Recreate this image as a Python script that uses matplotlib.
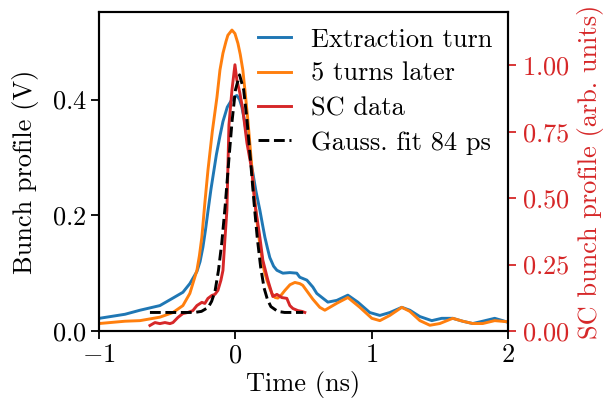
import matplotlib
matplotlib.use("Agg")
import matplotlib.pyplot as plt
from matplotlib.ticker import MultipleLocator

plt.rcParams['font.family'] = 'cmr10'
plt.rcParams['mathtext.fontset'] = 'cm'
plt.rcParams['axes.formatter.use_mathtext'] = True
plt.rcParams['axes.unicode_minus'] = True

# ==================== Data ====================

# Extraction turn (V)
t_extr = [-1.0, -0.811, -0.701, -0.555, -0.459, -0.386, -0.335, -0.283, -0.26, -0.239,
          -0.22, -0.202, -0.18, -0.162, -0.14, -0.114, -0.092, -0.06, -0.026, -0.005,
          0.010, 0.03, 0.047, 0.065, 0.084, 0.104, 0.124, 0.15, 0.179, 0.2,
          0.216, 0.235, 0.252, 0.28, 0.304, 0.348, 0.399, 0.450, 0.472, 0.524,
          0.568, 0.597, 0.678, 0.744, 0.825, 0.898, 0.986, 1.060, 1.133, 1.221,
          1.280, 1.354, 1.441, 1.514, 1.595, 1.668, 1.742, 1.815, 1.903, 1.962, 2.0]
v_extr = [0.022, 0.029, 0.036, 0.044, 0.057, 0.067, 0.082, 0.103, 0.120, 0.145,
          0.175, 0.207, 0.245, 0.272, 0.305, 0.337, 0.362, 0.387, 0.400, 0.405,
          0.407, 0.400, 0.387, 0.365, 0.335, 0.305, 0.278, 0.242, 0.209, 0.182,
          0.162, 0.143, 0.127, 0.112, 0.105, 0.100, 0.101, 0.100, 0.093, 0.088,
          0.076, 0.065, 0.050, 0.053, 0.062, 0.050, 0.032, 0.027, 0.032, 0.041,
          0.036, 0.025, 0.018, 0.022, 0.022, 0.017, 0.013, 0.017, 0.022, 0.018, 0.015]

# 5 turns later (V)
t_later = [-1.0, -0.811, -0.701, -0.555, -0.459, -0.386, -0.335, -0.283, -0.265, -0.247,
           -0.225, -0.202, -0.17, -0.136, -0.114, -0.092, -0.07, -0.056, -0.026, -0.004,
           0.018, 0.035, 0.054, 0.072, 0.091, 0.105, 0.120, 0.138, 0.157, 0.175,
           0.194, 0.21, 0.231, 0.25, 0.267, 0.29, 0.311, 0.335, 0.362, 0.40,
           0.436, 0.472, 0.494, 0.568, 0.619, 0.656, 0.744, 0.825, 0.913, 1.001,
           1.060, 1.133, 1.221, 1.280, 1.354, 1.427, 1.500, 1.595, 1.668, 1.742,
           1.815, 1.903, 2.0]
v_later = [0.013, 0.017, 0.018, 0.024, 0.032, 0.044, 0.065, 0.105, 0.130, 0.162,
           0.221, 0.278, 0.345, 0.404, 0.451, 0.480, 0.500, 0.511, 0.520, 0.514,
           0.497, 0.478, 0.451, 0.410, 0.364, 0.325, 0.283, 0.235, 0.191, 0.157,
           0.127, 0.105, 0.088, 0.075, 0.065, 0.058, 0.057, 0.062, 0.070, 0.080,
           0.084, 0.082, 0.079, 0.055, 0.041, 0.036, 0.048, 0.058, 0.041, 0.022,
           0.018, 0.027, 0.041, 0.034, 0.018, 0.010, 0.013, 0.022, 0.017, 0.013,
           0.013, 0.018, 0.016]

# SC data (arb. units)
t_sc = [-0.628, -0.591, -0.555, -0.518, -0.481, -0.459, -0.423, -0.386, -0.349, -0.313,
        -0.283, -0.247, -0.225, -0.202, -0.173, -0.151, -0.129, -0.107, -0.092, -0.078,
        -0.063, -0.056, -0.048, -0.026, -0.004, 0.010, 0.032, 0.054, 0.084, 0.120,
        0.142, 0.179, 0.201, 0.238, 0.274, 0.304, 0.340, 0.377, 0.399, 0.421,
        0.458, 0.487, 0.509]
r_sc = [0.021, 0.032, 0.028, 0.032, 0.028, 0.032, 0.051, 0.066, 0.070, 0.077,
        0.096, 0.108, 0.104, 0.123, 0.134, 0.138, 0.153, 0.191, 0.228, 0.342,
        0.455, 0.606, 0.775, 0.906, 1.002, 0.945, 0.896, 0.832, 0.708, 0.606,
        0.481, 0.353, 0.266, 0.191, 0.130, 0.138, 0.126, 0.123, 0.096, 0.085,
        0.077, 0.074, 0.070]

# Gaussian fit (arb. units)
t_fit = [-0.628, -0.30, -0.25, -0.20, -0.175, -0.15, -0.125, -0.10, -0.075, -0.05,
         -0.025, 0.0, 0.03, 0.06, 0.085, 0.11, 0.135, 0.16, 0.185, 0.21,
         0.235, 0.26, 0.31, 0.36, 0.497]
r_fit = [0.070, 0.070, 0.074, 0.089, 0.112, 0.150, 0.228, 0.335, 0.475, 0.636,
         0.790, 0.908, 0.964, 0.908, 0.792, 0.645, 0.490, 0.350, 0.240, 0.162,
         0.118, 0.092, 0.074, 0.070, 0.070]

SC_RED = 'tab:red'

# ==================== Plot ====================

fig = plt.figure(figsize=(6.09, 4.18), dpi=100)
ax = fig.add_axes([0.163, 0.208, 0.671, 0.763])
ax2 = ax.twinx()

l1, = ax.plot(t_extr, v_extr, color='tab:blue', lw=2.1, label='Extraction turn')
l2, = ax.plot(t_later, v_later, color='tab:orange', lw=2.1, label='5 turns later')
l3, = ax2.plot(t_sc, r_sc, color=SC_RED, lw=2.1, label='SC data')
l4, = ax2.plot(t_fit, r_fit, color='black', ls='--', lw=2.1, label='Gauss. fit 84 ps')

ax.set_xlim(-1, 2)
ax.set_ylim(0, 0.551)
ax2.set_ylim(0, 1.2)
ax.xaxis.set_major_locator(MultipleLocator(1))
ax.yaxis.set_major_locator(MultipleLocator(0.2))
ax2.yaxis.set_major_locator(MultipleLocator(0.25))

fs = 19
ax.set_xlabel('Time (ns)', fontsize=fs, labelpad=3)
ax.set_ylabel('Bunch profile (V)', fontsize=fs, labelpad=9)
ax2.set_ylabel('SC bunch profile (arb. units)', fontsize=fs, color=SC_RED, labelpad=5)

for a in (ax, ax2):
    for s in a.spines.values():
        s.set_linewidth(1.5)
ax.tick_params(labelsize=fs, length=6, width=1.3, pad=3)
ax2.tick_params(axis='y', labelsize=fs, length=6, width=1.3, pad=4.5,
                colors=SC_RED)

ax2.legend(handles=[l1, l2, l3, l4], loc='upper right', frameon=False,
           fontsize=fs, handlelength=1.25, handletextpad=0.75, labelspacing=0.4,
           borderaxespad=0.3, borderpad=0.3)

fig.savefig('out.png', dpi=100)
